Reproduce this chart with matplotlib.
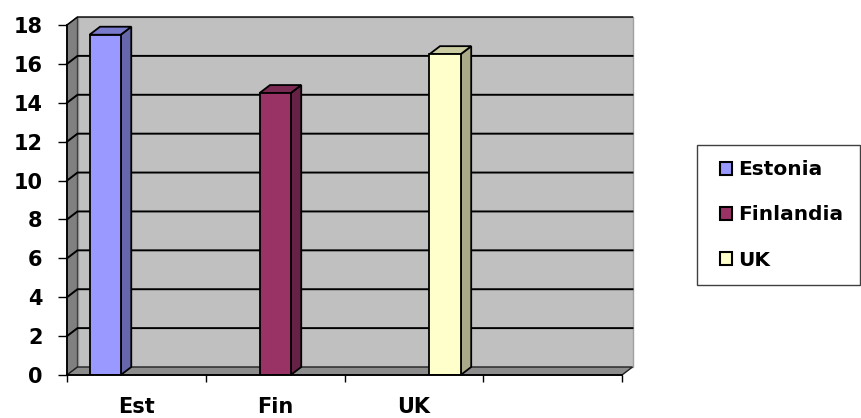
import matplotlib
matplotlib.use('Agg')
import matplotlib.pyplot as plt
from matplotlib.patches import Polygon, Rectangle
import numpy as np

plt.rcParams['font.family'] = ['DejaVu Sans']
plt.rcParams['font.weight'] = 'bold'

categories = ['Est', 'Fin', 'UK', '']
series_names = ['Estonia', 'Finlandia', 'UK']
estonia = [17.5, 0, 0, 0]
finlandia = [0, 14.5, 0, 0]
uk = [0, 0, 16.5, 0]
yticks = [0, 2, 4, 6, 8, 10, 12, 14, 16, 18]

# front / top / side colours for the fake 3d look
front_cols = ['#9999FF', '#993366', '#FFFFCC']
top_cols = ['#7A7ACC', '#7A2952', '#CCCCA3']
side_cols = ['#6666AA', '#662244', '#AAAA88']

DX, DY = 10.5, 8.0  # depth in pixels

fig = plt.figure(figsize=(8.61, 4.18), dpi=100)
ax = fig.add_axes([67 / 861, 1 - 375 / 418, (622 - 67) / 861, (375 - 25) / 418])
ax.set_xlim(0, len(categories))
ax.set_ylim(0, 18)
ax.patch.set_visible(False)

# depth offset in data units
p0 = ax.transData.transform((0, 0))
p1 = ax.transData.inverted().transform((p0[0] + DX, p0[1] + DY))
ddx, ddy = p1[0], p1[1]

xmax = len(categories)
ymax = yticks[-1]

# back wall
ax.add_patch(Polygon([(ddx, ddy), (xmax + ddx, ddy), (xmax + ddx, ymax + ddy), (ddx, ymax + ddy)],
                     closed=True, facecolor='#C0C0C0', edgecolor='#A0A0A0', lw=1, clip_on=False, zorder=1))
# left wall
ax.add_patch(Polygon([(0, 0), (ddx, ddy), (ddx, ymax + ddy), (0, ymax)],
                     closed=True, facecolor='#808080', edgecolor='#404040', lw=1, clip_on=False, zorder=1))
# floor
ax.add_patch(Polygon([(0, 0), (xmax, 0), (xmax + ddx, ddy), (ddx, ddy)],
                     closed=True, facecolor='#8C8C8C', edgecolor='#202020', lw=1, clip_on=False, zorder=1))

# gridlines: along left wall then the back wall
for t in yticks[1:-1]:
    ax.plot([0, ddx, xmax + ddx], [t, t + ddy, t + ddy], color='black', lw=1.4, clip_on=False, zorder=2)
ax.plot([0, ddx, xmax + ddx], [ymax, ymax + ddy, ymax + ddy], color='black', lw=1.0, clip_on=False, zorder=2)

# clustered bars
width = 0.225
x = np.arange(len(categories)) + 0.5
all_vals = [estonia, finlandia, uk]
handles = []
for i, vals in enumerate(all_vals):
    vals = np.array(vals, dtype=float)
    xs = x + (i - 1) * width
    mask = vals > 0
    b = ax.bar(xs[mask], vals[mask], width=width, color=front_cols[i], edgecolor='black',
               lw=1.3, zorder=4, label=series_names[i])
    handles.append(b)
    for xc, v in zip(xs[mask], vals[mask]):
        l, r = xc - width / 2, xc + width / 2
        ax.add_patch(Polygon([(r, 0), (r + ddx, ddy), (r + ddx, v + ddy), (r, v)], closed=True,
                             facecolor=side_cols[i], edgecolor='black', lw=1.3, clip_on=False, zorder=3))
        ax.add_patch(Polygon([(l, v), (r, v), (r + ddx, v + ddy), (l + ddx, v + ddy)], closed=True,
                             facecolor=top_cols[i], edgecolor='black', lw=1.3, clip_on=False, zorder=3))

# axes
for s in ['top', 'right']:
    ax.spines[s].set_visible(False)
ax.spines['left'].set_linewidth(1.3)
ax.spines['bottom'].set_linewidth(1.3)
ax.spines['left'].set_zorder(5)
ax.spines['bottom'].set_zorder(5)
ax.set_yticks(yticks)
ax.set_yticklabels([str(t) for t in yticks], fontsize=15, fontweight='bold')
ax.tick_params(axis='y', direction='out', length=6.5, width=1, pad=11)
ax.set_xticks(np.arange(len(categories) + 1))
ax.set_xticklabels([])
ax.set_xticks(x, minor=True)
ax.set_xticklabels(categories, minor=True, fontsize=15, fontweight='bold')
ax.tick_params(axis='x', which='major', direction='out', length=5, width=1)
ax.tick_params(axis='x', which='minor', length=0, pad=16)

# legend box
fig.patches.append(Rectangle((697 / 861, 1 - 285 / 418), (860 - 697) / 861, (285 - 145) / 418,
                             transform=fig.transFigure, facecolor='white', edgecolor='#404040',
                             lw=1.0, zorder=0))
leg = fig.legend(handles=handles, labels=series_names, loc='center left',
                 bbox_to_anchor=(720 / 861, 1 - 215 / 418), fontsize=14.5, frameon=False,
                 handlelength=0.6, handleheight=0.6,
                 handletextpad=0.3, labelspacing=1.3, borderpad=0, borderaxespad=0)
for t in leg.get_texts():
    t.set_fontweight('bold')
for h in leg.legend_handles:
    h.set_linewidth(1.5)

fig.savefig('out.png', dpi=100)
